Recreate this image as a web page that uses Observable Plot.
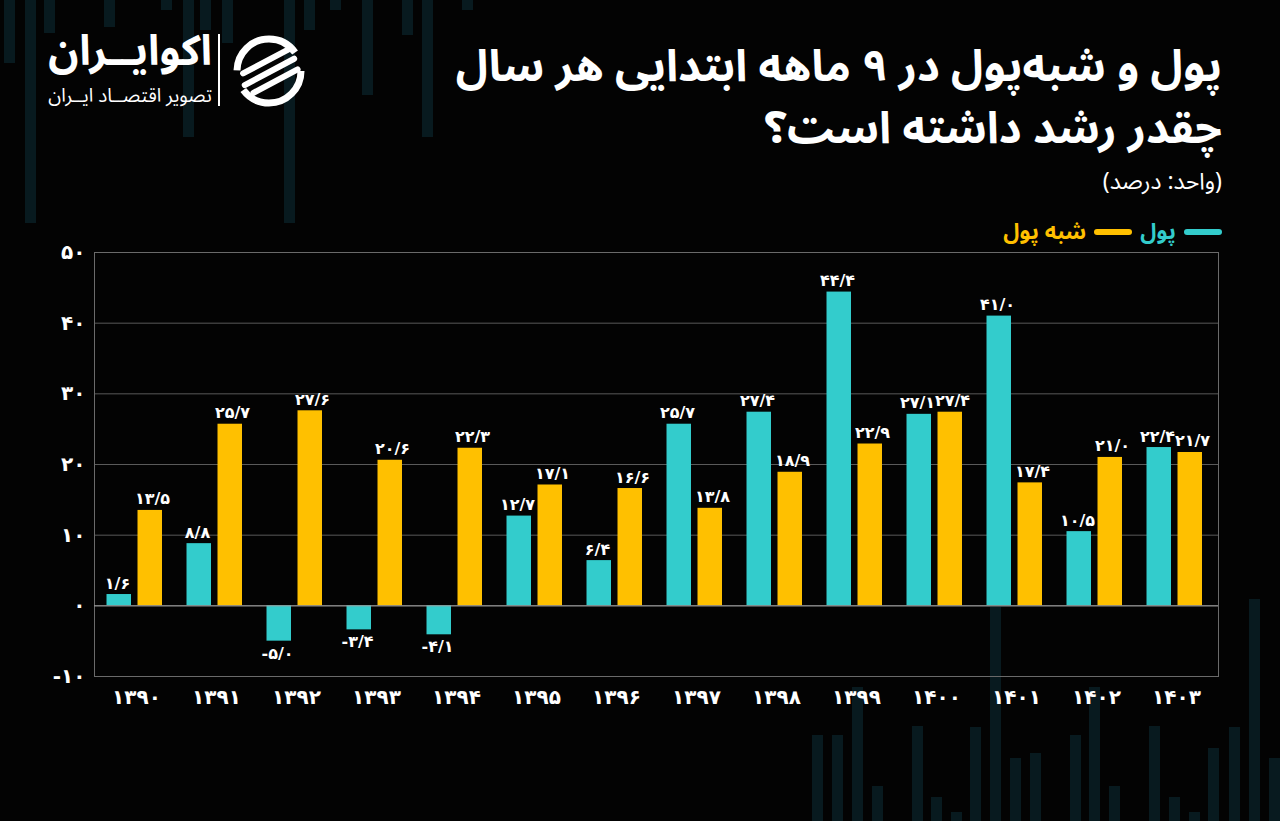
<!DOCTYPE html>
<html>
<head>
<meta charset="utf-8">
<script src="https://cdn.jsdelivr.net/npm/d3@7"></script>
<script src="https://cdn.jsdelivr.net/npm/@observablehq/plot@0.6"></script>
<style>
  html, body { margin: 0; padding: 0; background: #030303; }
  body { width: 1280px; height: 821px; position: relative; overflow: hidden;
         font-family: "Noto Sans Arabic", "Vazirmatn", "DejaVu Sans", sans-serif; color: #fff; }
  .deco { position: absolute; background: #081a1f; width: 11px; }
  .title { position: absolute; right: 58px; top: 36px; direction: rtl; text-align: right;
           font-weight: bold; font-size: 44px; line-height: 62px; }
  .unit { position: absolute; right: 58px; top: 170px; direction: rtl; font-size: 23px; line-height: 24px; }
  .legend { position: absolute; right: 58px; top: 220px; direction: rtl; display: flex; align-items: center;
            font-size: 22px; line-height: 24px; font-weight: bold; gap: 8px; }
  .legend .sw { width: 38px; height: 6px; border-radius: 3px; display: inline-block; }
  .brand { position: absolute; right: 1068px; top: 30px; direction: rtl; text-align: right; white-space: nowrap; }
  .brand .name { font-size: 42px; font-weight: bold; line-height: 44px; }
  .brand .tag { font-size: 19px; line-height: 20px; margin-top: 12px; }
  .divider { position: absolute; left: 218px; top: 34px; width: 2px; height: 72px; background: #fff; }
  .icon { position: absolute; left: 232px; top: 34px; }
  #chart { position: absolute; left: 0; top: 228px; }
  #chart svg text { font-weight: bold; }
</style>
</head>
<body>
<div id="decor"></div>
<div class="brand">
  <div class="name">اکوایــران</div>
  <div class="tag">تصویر اقتصــاد ایــران</div>
</div>
<div class="divider"></div>
<svg class="icon" width="74" height="74" viewBox="0 0 74 74">
  <circle cx="37" cy="37" r="32" fill="none" stroke="#fff" stroke-width="7" stroke-dasharray="80 21"/>
  <g fill="#fff" transform="rotate(-28 37 37)">
    <rect x="10" y="24" width="58" height="6" rx="3"/>
    <rect x="6" y="35" width="62" height="6" rx="3"/>
    <rect x="10" y="46" width="56" height="6" rx="3"/>
  </g>
</svg>
<div class="title">پول و شبه‌پول در ۹ ماهه ابتدایی هر سال<br>چقدر رشد داشته است؟</div>
<div class="unit">(واحد: درصد)</div>
<div class="legend">
  <span class="sw" style="background:#33CCCC"></span><span style="color:#33CCCC">پول</span>
  <span class="sw" style="background:#FFC000"></span><span style="color:#FFC000">شبه پول</span>
</div>
<div id="chart"></div>
<script>
const years = [1390, 1391, 1392, 1393, 1394, 1395, 1396, 1397, 1398, 1399, 1400, 1401, 1402, 1403];
const money = [1.6, 8.8, -5.0, -3.4, -4.1, 12.7, 6.4, 25.7, 27.4, 44.4, 27.1, 41.0, 10.5, 22.4];
const quasiMoney = [13.5, 25.7, 27.6, 20.6, 22.3, 17.1, 16.6, 13.8, 18.9, 22.9, 27.4, 17.4, 21.0, 21.7];
const seriesNames = ["پول", "شبه پول"];
const yTicks = [-10, 0, 10, 20, 30, 40, 50];

// background decoration (faint vertical strokes of the template)
const decoTop = [[4,63],[25,223],[44,33],[104,27],[161,10],[183,137],[200,30],[222,43],[284,223],[304,30],[330,10],[362,95],[402,35],[422,137],[462,10]];
const decoBottom = [[812,735],[832,735],[852,687],[872,786],[912,726],[931,797],[951,812],[970,727],[990,607],[1010,758],[1030,753],[1070,735],[1089,687],[1109,786],[1149,726],[1169,797],[1189,812],[1208,748],[1229,727],[1249,599],[1269,758]];
const decor = document.getElementById("decor");
decoTop.forEach(([x, h]) => { const d = document.createElement("div"); d.className = "deco";
  d.style.cssText = `left:${x}px;top:0;height:${h}px`; decor.appendChild(d); });
decoBottom.forEach(([x, t]) => { const d = document.createElement("div"); d.className = "deco";
  d.style.cssText = `left:${x}px;top:${t}px;height:${821 - t}px`; decor.appendChild(d); });

const TEAL = "#33CCCC", GOLD = "#FFC000";
const fa = s => String(s).replace(/\d/g, d => "۰۱۲۳۴۵۶۷۸۹"[d]);
const faNum = v => fa(v.toFixed(1)).replace(".", "/");

const moneyRows = years.map((y, i) => ({year: y, series: seriesNames[0], value: money[i]}));
const quasiRows = years.map((y, i) => ({year: y, series: seriesNames[1], value: quasiMoney[i]}));

const FONT = '"DejaVu Sans", sans-serif';
const labelMarks = (rows, dx) => [
  Plot.text(rows.filter(d => d.value >= 0), {x: "year", y: "value", text: d => faNum(d.value),
    dx, dy: -6, lineAnchor: "bottom", fill: "#fff", fontSize: 16}),
  Plot.text(rows.filter(d => d.value < 0), {x: "year", y: "value", text: d => faNum(d.value),
    dx, dy: 6, lineAnchor: "top", fill: "#fff", fontSize: 16})
];

const chart = Plot.plot({
  width: 1280,
  height: 496,
  marginLeft: 94,
  marginRight: 62,
  marginTop: 24,
  marginBottom: 48,
  style: {background: "transparent", color: "#fff", fontSize: "19px", fontFamily: FONT},
  x: {type: "band", domain: years, padding: 0},
  y: {domain: [-10, 50]},
  marks: [
    Plot.gridY(yTicks, {stroke: "#5a5a5a", strokeOpacity: 1}),
    Plot.frame({stroke: "#6a6a6a"}),
    Plot.barY(moneyRows, {x: "year", y: "value", fill: TEAL, insetLeft: 10.5, insetRight: 45}),
    Plot.barY(quasiRows, {x: "year", y: "value", fill: GOLD, insetLeft: 41.5, insetRight: 14}),
    Plot.ruleY([0], {stroke: "#a0a0a0"}),
    ...labelMarks(moneyRows, -19),
    ...labelMarks(quasiRows, 16),
    Plot.axisY(yTicks, {tickSize: 0, tickPadding: 9, tickFormat: fa, label: null, fontSize: 20}),
    Plot.axisX({tickSize: 0, tickPadding: 13, tickFormat: fa, label: null, fontSize: 20})
  ]
});
document.getElementById("chart").appendChild(chart);
</script>
</body>
</html>
